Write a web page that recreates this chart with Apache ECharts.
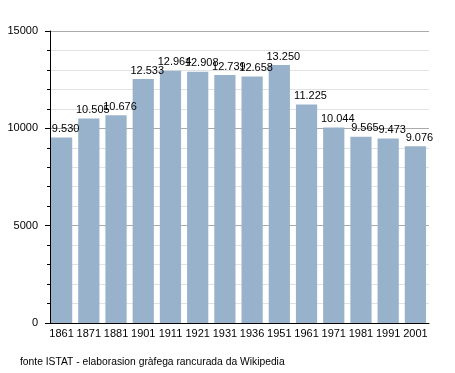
<!DOCTYPE html>
<html><head><meta charset="utf-8">
<script src="https://cdn.jsdelivr.net/npm/echarts@6/dist/echarts.min.js"></script>
<style>html,body{margin:0;padding:0;background:#fff}#c{width:455px;height:373px}</style>
</head><body><div id="c"></div>
<script>
const years = ['1861','1871','1881','1901','1911','1921','1931','1936','1951','1961','1971','1981','1991','2001'];
const population = [9530,10505,10676,12533,12964,12908,12739,12658,13250,11225,10044,9565,9473,9076];
const yTicks = [0,5000,10000,15000];
const source = 'fonte ISTAT - elaborasion gràfega rancurada da Wikipedia';

const fmt = v => { const s = String(v); return s.length > 3 ? s.slice(0, s.length-3) + '.' + s.slice(-3) : s; };
const font = 'Liberation Sans, Arial, sans-serif';
const chart = echarts.init(document.getElementById('c'), null, {renderer:'canvas'});
chart.setOption({
  animation:false,
  backgroundColor:'#fff',
  grid:{left:48,right:26,top:31,bottom:50,containLabel:false},
  graphic:[{type:'text',left:20,top:357,style:{text:source,font:'10.3px '+font,fill:'#000'}}],
  xAxis:{type:'category',data:years,
    axisLine:{lineStyle:{color:'#000',width:1}},
    axisTick:{show:false},
    axisLabel:{color:'#000',fontFamily:font,fontSize:11,margin:5,interval:0}},
  yAxis:{type:'value',min:yTicks[0],max:yTicks[yTicks.length-1],interval:5000,offset:-2,
    axisLine:{show:true,lineStyle:{color:'#000'}},
    axisTick:{show:true,length:5,lineStyle:{color:'#000'}},
    minorTick:{show:true,splitNumber:5,length:3,lineStyle:{color:'#000'}},
    splitLine:{show:true,lineStyle:{color:'#aaa'}},
    minorSplitLine:{show:true,lineStyle:{color:'#e2e2e2'}},
    axisLabel:{color:'#000',fontFamily:font,fontSize:11,margin:12,formatter:v=>String(v)}},
  series:[{type:'bar',data:population,barCategoryGap:'22%',
    itemStyle:{color:'#98b2cc'},
    label:{show:true,position:'top',distance:3,offset:[4,0],color:'#000',fontFamily:font,fontSize:11,
      formatter:p=>fmt(p.value)}}]
});
</script></body></html>
